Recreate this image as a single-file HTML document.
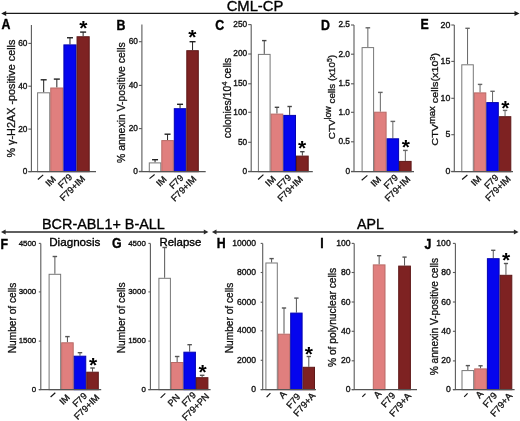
<!DOCTYPE html>
<html><head><meta charset="utf-8"><style>
html,body{margin:0;padding:0;background:#fff;}
body{width:520px;height:421px;overflow:hidden;}
svg{display:block;font-family:"Liberation Sans", sans-serif;will-change:transform;filter:blur(0.3px);}
text{-webkit-font-smoothing:antialiased;}
</style></head><body>
<svg width="520" height="421" viewBox="0 0 520 421">
<rect width="520" height="421" fill="#fff"/>
<line x1="43.68" y1="92.3" x2="43.68" y2="79.8" stroke="#222" stroke-width="1"/>
<line x1="40.68" y1="79.8" x2="46.68" y2="79.8" stroke="#222" stroke-width="1.4"/>
<rect x="37.60" y="92.80" width="12.15" height="78.90" fill="#fff" stroke="#777" stroke-width="1"/>
<line x1="56.83" y1="87.5" x2="56.83" y2="79.1" stroke="#222" stroke-width="1"/>
<line x1="53.83" y1="79.1" x2="59.83" y2="79.1" stroke="#222" stroke-width="1.4"/>
<rect x="50.75" y="88.00" width="12.15" height="83.70" fill="#E07F7E" stroke="#B86A66" stroke-width="1"/>
<line x1="69.98" y1="44.4" x2="69.98" y2="37.75" stroke="#222" stroke-width="1"/>
<line x1="66.98" y1="37.75" x2="72.98" y2="37.75" stroke="#222" stroke-width="1.4"/>
<rect x="63.90" y="44.90" width="12.15" height="126.80" fill="#0505EE" stroke="#0303B0" stroke-width="1"/>
<line x1="83.13" y1="36.25" x2="83.13" y2="32.1" stroke="#222" stroke-width="1"/>
<line x1="80.13" y1="32.1" x2="86.13" y2="32.1" stroke="#222" stroke-width="1.4"/>
<rect x="77.05" y="36.75" width="12.15" height="134.95" fill="#7E2222" stroke="#5E1818" stroke-width="1"/>
<line x1="31.4" y1="25" x2="31.4" y2="171.7" stroke="#5a5a5a" stroke-width="1.1"/>
<line x1="28.4" y1="171.7" x2="96" y2="171.7" stroke="#555" stroke-width="1.2"/>
<line x1="28.4" y1="171.6" x2="31.4" y2="171.6" stroke="#5a5a5a" stroke-width="1.1"/>
<text x="27.40" y="174.09" font-size="8.3" text-anchor="end" font-weight="normal" fill="#111" stroke="#111" stroke-width="0.35">0</text>
<line x1="28.4" y1="129.1" x2="31.4" y2="129.1" stroke="#5a5a5a" stroke-width="1.1"/>
<text x="27.40" y="131.59" font-size="8.3" text-anchor="end" font-weight="normal" fill="#111" stroke="#111" stroke-width="0.35">20</text>
<line x1="28.4" y1="86.2" x2="31.4" y2="86.2" stroke="#5a5a5a" stroke-width="1.1"/>
<text x="27.40" y="88.69" font-size="8.3" text-anchor="end" font-weight="normal" fill="#111" stroke="#111" stroke-width="0.35">40</text>
<line x1="28.4" y1="43.4" x2="31.4" y2="43.4" stroke="#5a5a5a" stroke-width="1.1"/>
<text x="27.40" y="45.89" font-size="8.3" text-anchor="end" font-weight="normal" fill="#111" stroke="#111" stroke-width="0.35">60</text>
<line x1="37.9" y1="179.5" x2="43.2" y2="174.9" stroke="#111" stroke-width="1.15"/>
<text transform="translate(49.20,187.00) rotate(-45)" font-size="9.2" fill="#111" stroke="#111" stroke-width="0.3">IM</text>
<text transform="translate(61.70,188.80) rotate(-45)" font-size="9.2" fill="#111" stroke="#111" stroke-width="0.3">F79</text>
<text transform="translate(63.50,201.50) rotate(-45)" font-size="9.2" fill="#111" stroke="#111" stroke-width="0.3">F79+IM</text>
<text transform="translate(14.7,98.60) rotate(-90)" font-size="10.6" text-anchor="middle" textLength="118.00" lengthAdjust="spacingAndGlyphs" fill="#111" stroke="#111" stroke-width="0.3">% γ-H2AX -positive cells</text>
<text transform="translate(1.6,28.9) scale(0.95,1.07)" font-size="13" font-weight="bold" fill="#000" stroke="#000" stroke-width="0.35">A</text>
<text x="83.30" y="34.50" font-size="21" font-weight="bold" text-anchor="middle" fill="#000">*</text>
<line x1="155.05" y1="162.4" x2="155.05" y2="159.7" stroke="#222" stroke-width="1"/>
<line x1="152.05" y1="159.7" x2="158.05" y2="159.7" stroke="#222" stroke-width="1.4"/>
<rect x="149.30" y="162.90" width="11.50" height="8.80" fill="#fff" stroke="#777" stroke-width="1"/>
<line x1="167.55" y1="140.1" x2="167.55" y2="134.2" stroke="#222" stroke-width="1"/>
<line x1="164.55" y1="134.2" x2="170.55" y2="134.2" stroke="#222" stroke-width="1.4"/>
<rect x="161.80" y="140.60" width="11.50" height="31.10" fill="#E07F7E" stroke="#B86A66" stroke-width="1"/>
<line x1="180.05" y1="108.2" x2="180.05" y2="104.3" stroke="#222" stroke-width="1"/>
<line x1="177.05" y1="104.3" x2="183.05" y2="104.3" stroke="#222" stroke-width="1.4"/>
<rect x="174.30" y="108.70" width="11.50" height="63.00" fill="#0505EE" stroke="#0303B0" stroke-width="1"/>
<line x1="192.55" y1="50.2" x2="192.55" y2="41.7" stroke="#222" stroke-width="1"/>
<line x1="189.55" y1="41.7" x2="195.55" y2="41.7" stroke="#222" stroke-width="1.4"/>
<rect x="186.80" y="50.70" width="11.50" height="121.00" fill="#7E2222" stroke="#5E1818" stroke-width="1"/>
<line x1="141.9" y1="24.4" x2="141.9" y2="171.7" stroke="#5a5a5a" stroke-width="1.1"/>
<line x1="138.9" y1="171.7" x2="205.7" y2="171.7" stroke="#555" stroke-width="1.2"/>
<line x1="138.9" y1="171.4" x2="141.9" y2="171.4" stroke="#5a5a5a" stroke-width="1.1"/>
<text x="137.90" y="173.89" font-size="8.3" text-anchor="end" font-weight="normal" fill="#111" stroke="#111" stroke-width="0.35">0</text>
<line x1="138.9" y1="128.6" x2="141.9" y2="128.6" stroke="#5a5a5a" stroke-width="1.1"/>
<text x="137.90" y="131.09" font-size="8.3" text-anchor="end" font-weight="normal" fill="#111" stroke="#111" stroke-width="0.35">20</text>
<line x1="138.9" y1="85.4" x2="141.9" y2="85.4" stroke="#5a5a5a" stroke-width="1.1"/>
<text x="137.90" y="87.89" font-size="8.3" text-anchor="end" font-weight="normal" fill="#111" stroke="#111" stroke-width="0.35">40</text>
<line x1="138.9" y1="41.7" x2="141.9" y2="41.7" stroke="#5a5a5a" stroke-width="1.1"/>
<text x="137.90" y="44.19" font-size="8.3" text-anchor="end" font-weight="normal" fill="#111" stroke="#111" stroke-width="0.35">60</text>
<line x1="149.5" y1="178.6" x2="154.6" y2="174.5" stroke="#111" stroke-width="1.15"/>
<text transform="translate(160.00,187.10) rotate(-45)" font-size="9.2" fill="#111" stroke="#111" stroke-width="0.3">IM</text>
<text transform="translate(172.90,189.50) rotate(-45)" font-size="9.2" fill="#111" stroke="#111" stroke-width="0.3">F79</text>
<text transform="translate(174.80,201.90) rotate(-45)" font-size="9.2" fill="#111" stroke="#111" stroke-width="0.3">F79+IM</text>
<text transform="translate(124.6,102.65) rotate(-90)" font-size="10.4" text-anchor="middle" textLength="120.70" lengthAdjust="spacingAndGlyphs" fill="#111" stroke="#111" stroke-width="0.3">% annexin V-positive cells</text>
<text transform="translate(116.6,30.2) scale(0.95,1.07)" font-size="13" font-weight="bold" fill="#000" stroke="#000" stroke-width="0.35">B</text>
<text x="192.40" y="44.35" font-size="21" font-weight="bold" text-anchor="middle" fill="#000">*</text>
<line x1="264.25" y1="53.9" x2="264.25" y2="40.6" stroke="#444" stroke-width="1"/>
<line x1="262.05" y1="40.6" x2="266.45" y2="40.6" stroke="#444" stroke-width="1.4"/>
<rect x="258.40" y="54.40" width="11.70" height="117.30" fill="#fff" stroke="#777" stroke-width="1"/>
<line x1="276.95" y1="113.6" x2="276.95" y2="107.3" stroke="#444" stroke-width="1"/>
<line x1="274.75" y1="107.3" x2="279.15" y2="107.3" stroke="#444" stroke-width="1.4"/>
<rect x="271.10" y="114.10" width="11.70" height="57.60" fill="#E07F7E" stroke="#B86A66" stroke-width="1"/>
<line x1="289.65" y1="114.9" x2="289.65" y2="106.5" stroke="#444" stroke-width="1"/>
<line x1="287.45" y1="106.5" x2="291.85" y2="106.5" stroke="#444" stroke-width="1.4"/>
<rect x="283.80" y="115.40" width="11.70" height="56.30" fill="#0505EE" stroke="#0303B0" stroke-width="1"/>
<line x1="302.35" y1="155.6" x2="302.35" y2="151.7" stroke="#444" stroke-width="1"/>
<line x1="300.15" y1="151.7" x2="304.55" y2="151.7" stroke="#444" stroke-width="1.4"/>
<rect x="296.50" y="156.10" width="11.70" height="15.60" fill="#7E2222" stroke="#5E1818" stroke-width="1"/>
<line x1="251.2" y1="24.6" x2="251.2" y2="171.7" stroke="#5a5a5a" stroke-width="1.1"/>
<line x1="248.2" y1="171.7" x2="312.8" y2="171.7" stroke="#555" stroke-width="1.2"/>
<line x1="248.2" y1="171.4" x2="251.2" y2="171.4" stroke="#5a5a5a" stroke-width="1.1"/>
<text x="247.20" y="173.89" font-size="8.3" text-anchor="end" font-weight="normal" fill="#111" stroke="#111" stroke-width="0.35">0</text>
<line x1="248.2" y1="142.3" x2="251.2" y2="142.3" stroke="#5a5a5a" stroke-width="1.1"/>
<text x="247.20" y="144.79" font-size="8.3" text-anchor="end" font-weight="normal" fill="#111" stroke="#111" stroke-width="0.35">50</text>
<line x1="248.2" y1="112.3" x2="251.2" y2="112.3" stroke="#5a5a5a" stroke-width="1.1"/>
<text x="247.20" y="114.79" font-size="8.3" text-anchor="end" font-weight="normal" fill="#111" stroke="#111" stroke-width="0.35">100</text>
<line x1="248.2" y1="83.8" x2="251.2" y2="83.8" stroke="#5a5a5a" stroke-width="1.1"/>
<text x="247.20" y="86.29" font-size="8.3" text-anchor="end" font-weight="normal" fill="#111" stroke="#111" stroke-width="0.35">150</text>
<line x1="248.2" y1="54.0" x2="251.2" y2="54.0" stroke="#5a5a5a" stroke-width="1.1"/>
<text x="247.20" y="56.49" font-size="8.3" text-anchor="end" font-weight="normal" fill="#111" stroke="#111" stroke-width="0.35">200</text>
<line x1="248.2" y1="24.6" x2="251.2" y2="24.6" stroke="#5a5a5a" stroke-width="1.1"/>
<text x="247.20" y="27.09" font-size="8.3" text-anchor="end" font-weight="normal" fill="#111" stroke="#111" stroke-width="0.35">250</text>
<line x1="258.1" y1="179.5" x2="263.4" y2="174.6" stroke="#111" stroke-width="1.15"/>
<text transform="translate(269.10,186.90) rotate(-45)" font-size="9.2" fill="#111" stroke="#111" stroke-width="0.3">IM</text>
<text transform="translate(280.60,189.40) rotate(-45)" font-size="9.2" fill="#111" stroke="#111" stroke-width="0.3">F79</text>
<text transform="translate(281.30,202.10) rotate(-45)" font-size="9.2" fill="#111" stroke="#111" stroke-width="0.3">F79+IM</text>
<text transform="translate(231.1,98.05) rotate(-90)" font-size="10.4" text-anchor="middle" textLength="80.50" lengthAdjust="spacingAndGlyphs" fill="#111" stroke="#111" stroke-width="0.3">colonies/10<tspan font-size="7.8" dy="-4">4</tspan><tspan dy="4"> cells</tspan></text>
<text transform="translate(215.3,29.6) scale(0.95,1.07)" font-size="13" font-weight="bold" fill="#000" stroke="#000" stroke-width="0.35">C</text>
<text x="302.20" y="154.95" font-size="21" font-weight="bold" text-anchor="middle" fill="#000">*</text>
<line x1="367.85" y1="47.1" x2="367.85" y2="27.8" stroke="#666" stroke-width="1"/>
<line x1="365.55" y1="27.8" x2="370.15" y2="27.8" stroke="#666" stroke-width="1.4"/>
<rect x="362.10" y="47.60" width="11.50" height="124.10" fill="#fff" stroke="#777" stroke-width="1"/>
<line x1="380.35" y1="111.7" x2="380.35" y2="92.4" stroke="#666" stroke-width="1"/>
<line x1="378.05" y1="92.4" x2="382.65" y2="92.4" stroke="#666" stroke-width="1.4"/>
<rect x="374.60" y="112.20" width="11.50" height="59.50" fill="#E07F7E" stroke="#B86A66" stroke-width="1"/>
<line x1="392.85" y1="138.3" x2="392.85" y2="121.4" stroke="#666" stroke-width="1"/>
<line x1="390.55" y1="121.4" x2="395.15" y2="121.4" stroke="#666" stroke-width="1.4"/>
<rect x="387.10" y="138.80" width="11.50" height="32.90" fill="#0505EE" stroke="#0303B0" stroke-width="1"/>
<line x1="405.35" y1="160.9" x2="405.35" y2="150.4" stroke="#666" stroke-width="1"/>
<line x1="403.05" y1="150.4" x2="407.65" y2="150.4" stroke="#666" stroke-width="1.4"/>
<rect x="399.60" y="161.40" width="11.50" height="10.30" fill="#7E2222" stroke="#5E1818" stroke-width="1"/>
<line x1="354" y1="25" x2="354" y2="171.7" stroke="#5a5a5a" stroke-width="1.1"/>
<line x1="351" y1="171.7" x2="414" y2="171.7" stroke="#555" stroke-width="1.2"/>
<line x1="351" y1="171.4" x2="354" y2="171.4" stroke="#5a5a5a" stroke-width="1.1"/>
<text x="350.00" y="173.89" font-size="8.3" text-anchor="end" font-weight="normal" fill="#111" stroke="#111" stroke-width="0.35">0</text>
<line x1="351" y1="141.8" x2="354" y2="141.8" stroke="#5a5a5a" stroke-width="1.1"/>
<text x="350.00" y="144.29" font-size="8.3" text-anchor="end" font-weight="normal" fill="#111" stroke="#111" stroke-width="0.35">0.5</text>
<line x1="351" y1="112.3" x2="354" y2="112.3" stroke="#5a5a5a" stroke-width="1.1"/>
<text x="350.00" y="114.79" font-size="8.3" text-anchor="end" font-weight="normal" fill="#111" stroke="#111" stroke-width="0.35">1.0</text>
<line x1="351" y1="83.8" x2="354" y2="83.8" stroke="#5a5a5a" stroke-width="1.1"/>
<text x="350.00" y="86.29" font-size="8.3" text-anchor="end" font-weight="normal" fill="#111" stroke="#111" stroke-width="0.35">1.5</text>
<line x1="351" y1="54.2" x2="354" y2="54.2" stroke="#5a5a5a" stroke-width="1.1"/>
<text x="350.00" y="56.69" font-size="8.3" text-anchor="end" font-weight="normal" fill="#111" stroke="#111" stroke-width="0.35">2.0</text>
<line x1="351" y1="25" x2="354" y2="25" stroke="#5a5a5a" stroke-width="1.1"/>
<text x="350.00" y="27.49" font-size="8.3" text-anchor="end" font-weight="normal" fill="#111" stroke="#111" stroke-width="0.35">2.5</text>
<line x1="361.7" y1="180.3" x2="367.4" y2="175.4" stroke="#111" stroke-width="1.15"/>
<text transform="translate(374.40,187.30) rotate(-45)" font-size="9.2" fill="#111" stroke="#111" stroke-width="0.3">IM</text>
<text transform="translate(387.50,189.40) rotate(-45)" font-size="9.2" fill="#111" stroke="#111" stroke-width="0.3">F79</text>
<text transform="translate(388.60,202.10) rotate(-45)" font-size="9.2" fill="#111" stroke="#111" stroke-width="0.3">F79+IM</text>
<text transform="translate(334.9,97.05) rotate(-90)" font-size="9.5" text-anchor="middle" textLength="84.30" lengthAdjust="spacingAndGlyphs" fill="#111" stroke="#111" stroke-width="0.3">CTV<tspan font-size="8.5" dy="-3.8">low</tspan><tspan dy="3.8"> cells (x10</tspan><tspan font-size="6.5" dy="-3.2">5</tspan><tspan dy="3.2">)</tspan></text>
<text transform="translate(320.9,29.6) scale(0.95,1.07)" font-size="13" font-weight="bold" fill="#000" stroke="#000" stroke-width="0.35">D</text>
<text x="405.75" y="154.20" font-size="21" font-weight="bold" text-anchor="middle" fill="#000">*</text>
<line x1="467.55" y1="64.3" x2="467.55" y2="28.3" stroke="#666" stroke-width="1"/>
<line x1="465.35" y1="28.3" x2="469.75" y2="28.3" stroke="#666" stroke-width="1.4"/>
<rect x="461.80" y="64.80" width="11.50" height="106.90" fill="#fff" stroke="#777" stroke-width="1"/>
<line x1="480.05" y1="92.4" x2="480.05" y2="84.4" stroke="#666" stroke-width="1"/>
<line x1="477.85" y1="84.4" x2="482.25" y2="84.4" stroke="#666" stroke-width="1.4"/>
<rect x="474.30" y="92.90" width="11.50" height="78.80" fill="#E07F7E" stroke="#B86A66" stroke-width="1"/>
<line x1="492.55" y1="102.1" x2="492.55" y2="91.3" stroke="#666" stroke-width="1"/>
<line x1="490.35" y1="91.3" x2="494.75" y2="91.3" stroke="#666" stroke-width="1.4"/>
<rect x="486.80" y="102.60" width="11.50" height="69.10" fill="#0505EE" stroke="#0303B0" stroke-width="1"/>
<line x1="505.05" y1="116.2" x2="505.05" y2="110.4" stroke="#666" stroke-width="1"/>
<line x1="502.85" y1="110.4" x2="507.25" y2="110.4" stroke="#666" stroke-width="1.4"/>
<rect x="499.30" y="116.70" width="11.50" height="55.00" fill="#7E2222" stroke="#5E1818" stroke-width="1"/>
<line x1="454.3" y1="25" x2="454.3" y2="171.7" stroke="#5a5a5a" stroke-width="1.1"/>
<line x1="451.3" y1="171.7" x2="513" y2="171.7" stroke="#555" stroke-width="1.2"/>
<line x1="451.3" y1="171.4" x2="454.3" y2="171.4" stroke="#5a5a5a" stroke-width="1.1"/>
<text x="450.30" y="174.04" font-size="8.8" text-anchor="end" font-weight="normal" fill="#111" stroke="#111" stroke-width="0.35">0</text>
<line x1="451.3" y1="134.7" x2="454.3" y2="134.7" stroke="#5a5a5a" stroke-width="1.1"/>
<text x="450.30" y="137.34" font-size="8.8" text-anchor="end" font-weight="normal" fill="#111" stroke="#111" stroke-width="0.35">5</text>
<line x1="451.3" y1="98.3" x2="454.3" y2="98.3" stroke="#5a5a5a" stroke-width="1.1"/>
<text x="450.30" y="100.94" font-size="8.8" text-anchor="end" font-weight="normal" fill="#111" stroke="#111" stroke-width="0.35">10</text>
<line x1="451.3" y1="61.4" x2="454.3" y2="61.4" stroke="#5a5a5a" stroke-width="1.1"/>
<text x="450.30" y="64.04" font-size="8.8" text-anchor="end" font-weight="normal" fill="#111" stroke="#111" stroke-width="0.35">15</text>
<line x1="451.3" y1="25" x2="454.3" y2="25" stroke="#5a5a5a" stroke-width="1.1"/>
<text x="450.30" y="27.64" font-size="8.8" text-anchor="end" font-weight="normal" fill="#111" stroke="#111" stroke-width="0.35">20</text>
<line x1="462.1" y1="179.5" x2="467.4" y2="175.0" stroke="#111" stroke-width="1.15"/>
<text transform="translate(474.80,186.50) rotate(-45)" font-size="9.2" fill="#111" stroke="#111" stroke-width="0.3">IM</text>
<text transform="translate(487.90,189.40) rotate(-45)" font-size="9.2" fill="#111" stroke="#111" stroke-width="0.3">F79</text>
<text transform="translate(489.00,201.70) rotate(-45)" font-size="9.2" fill="#111" stroke="#111" stroke-width="0.3">F79+IM</text>
<text transform="translate(437.8,99.30) rotate(-90)" font-size="9.8" text-anchor="middle" textLength="92.80" lengthAdjust="spacingAndGlyphs" fill="#111" stroke="#111" stroke-width="0.3">CTV<tspan font-size="8.5" dy="-3.3">max</tspan><tspan dy="3.3"> cells(x10</tspan><tspan font-size="6.5" dy="-3.2">3</tspan><tspan dy="3.2">)</tspan></text>
<text transform="translate(420.6,29.4) scale(0.95,1.07)" font-size="13" font-weight="bold" fill="#000" stroke="#000" stroke-width="0.35">E</text>
<text x="505.40" y="114.60" font-size="21" font-weight="bold" text-anchor="middle" fill="#000">*</text>
<line x1="54.88" y1="273.8" x2="54.88" y2="256.5" stroke="#555" stroke-width="1"/>
<line x1="52.62" y1="256.5" x2="57.12" y2="256.5" stroke="#555" stroke-width="1.4"/>
<rect x="49.10" y="274.30" width="11.55" height="115.40" fill="#fff" stroke="#777" stroke-width="1"/>
<line x1="67.43" y1="342.3" x2="67.43" y2="336.6" stroke="#555" stroke-width="1"/>
<line x1="65.18" y1="336.6" x2="69.68" y2="336.6" stroke="#555" stroke-width="1.4"/>
<rect x="61.65" y="342.80" width="11.55" height="46.90" fill="#E07F7E" stroke="#B86A66" stroke-width="1"/>
<line x1="79.98" y1="355.7" x2="79.98" y2="352.7" stroke="#555" stroke-width="1"/>
<line x1="77.73" y1="352.7" x2="82.23" y2="352.7" stroke="#555" stroke-width="1.4"/>
<rect x="74.20" y="356.20" width="11.55" height="33.50" fill="#0505EE" stroke="#0303B0" stroke-width="1"/>
<line x1="92.53" y1="371.7" x2="92.53" y2="368" stroke="#555" stroke-width="1"/>
<line x1="90.28" y1="368" x2="94.78" y2="368" stroke="#555" stroke-width="1.4"/>
<rect x="86.75" y="372.20" width="11.55" height="17.50" fill="#7E2222" stroke="#5E1818" stroke-width="1"/>
<line x1="40.8" y1="243.6" x2="40.8" y2="389.7" stroke="#5a5a5a" stroke-width="1.1"/>
<line x1="38.8" y1="389.7" x2="101.2" y2="389.7" stroke="#555" stroke-width="1.2"/>
<line x1="38.8" y1="389.6" x2="40.8" y2="389.6" stroke="#5a5a5a" stroke-width="1.1"/>
<text x="36.20" y="391.97" font-size="7.9" text-anchor="end" font-weight="normal" fill="#111" stroke="#111" stroke-width="0.35">0</text>
<line x1="38.8" y1="341.1" x2="40.8" y2="341.1" stroke="#5a5a5a" stroke-width="1.1"/>
<text x="36.20" y="343.47" font-size="7.9" text-anchor="end" font-weight="normal" fill="#111" stroke="#111" stroke-width="0.35">1500</text>
<line x1="38.8" y1="291.9" x2="40.8" y2="291.9" stroke="#5a5a5a" stroke-width="1.1"/>
<text x="36.20" y="294.27" font-size="7.9" text-anchor="end" font-weight="normal" fill="#111" stroke="#111" stroke-width="0.35">3000</text>
<line x1="38.8" y1="243.4" x2="40.8" y2="243.4" stroke="#5a5a5a" stroke-width="1.1"/>
<text x="36.20" y="245.77" font-size="7.9" text-anchor="end" font-weight="normal" fill="#111" stroke="#111" stroke-width="0.35">4500</text>
<line x1="50.6" y1="397.0" x2="55.3" y2="392.8" stroke="#111" stroke-width="1.15"/>
<text transform="translate(63.20,405.20) rotate(-45)" font-size="9.2" fill="#111" stroke="#111" stroke-width="0.3">IM</text>
<text transform="translate(76.30,407.60) rotate(-45)" font-size="9.2" fill="#111" stroke="#111" stroke-width="0.3">F79</text>
<text transform="translate(77.80,420.30) rotate(-45)" font-size="9.2" fill="#111" stroke="#111" stroke-width="0.3">F79+IM</text>
<text transform="translate(15.9,318.00) rotate(-90)" font-size="10" text-anchor="middle" textLength="70.60" lengthAdjust="spacingAndGlyphs" fill="#111" stroke="#111" stroke-width="0.3">Number of cells</text>
<text transform="translate(0.5,249.1) scale(0.95,1.07)" font-size="13" font-weight="bold" fill="#000" stroke="#000" stroke-width="0.35">F</text>
<text x="93.05" y="371.55" font-size="21" font-weight="bold" text-anchor="middle" fill="#000">*</text>
<line x1="164.65" y1="277.8" x2="164.65" y2="247.5" stroke="#555" stroke-width="1"/>
<line x1="162.40" y1="247.5" x2="166.90" y2="247.5" stroke="#555" stroke-width="1.4"/>
<rect x="158.90" y="278.30" width="11.50" height="111.40" fill="#fff" stroke="#777" stroke-width="1"/>
<line x1="177.15" y1="362" x2="177.15" y2="356.5" stroke="#555" stroke-width="1"/>
<line x1="174.90" y1="356.5" x2="179.40" y2="356.5" stroke="#555" stroke-width="1.4"/>
<rect x="171.40" y="362.50" width="11.50" height="27.20" fill="#E07F7E" stroke="#B86A66" stroke-width="1"/>
<line x1="189.65" y1="351.7" x2="189.65" y2="344.7" stroke="#555" stroke-width="1"/>
<line x1="187.40" y1="344.7" x2="191.90" y2="344.7" stroke="#555" stroke-width="1.4"/>
<rect x="183.90" y="352.20" width="11.50" height="37.50" fill="#0505EE" stroke="#0303B0" stroke-width="1"/>
<line x1="202.15" y1="377.2" x2="202.15" y2="375.3" stroke="#555" stroke-width="1"/>
<line x1="199.90" y1="375.3" x2="204.40" y2="375.3" stroke="#555" stroke-width="1.4"/>
<rect x="196.40" y="377.70" width="11.50" height="12.00" fill="#7E2222" stroke="#5E1818" stroke-width="1"/>
<line x1="150.4" y1="243.6" x2="150.4" y2="389.7" stroke="#5a5a5a" stroke-width="1.1"/>
<line x1="148.4" y1="389.7" x2="210.6" y2="389.7" stroke="#555" stroke-width="1.2"/>
<line x1="148.4" y1="389.6" x2="150.4" y2="389.6" stroke="#5a5a5a" stroke-width="1.1"/>
<text x="145.80" y="391.97" font-size="7.9" text-anchor="end" font-weight="normal" fill="#111" stroke="#111" stroke-width="0.35">0</text>
<line x1="148.4" y1="341.1" x2="150.4" y2="341.1" stroke="#5a5a5a" stroke-width="1.1"/>
<text x="145.80" y="343.47" font-size="7.9" text-anchor="end" font-weight="normal" fill="#111" stroke="#111" stroke-width="0.35">1500</text>
<line x1="148.4" y1="291.9" x2="150.4" y2="291.9" stroke="#5a5a5a" stroke-width="1.1"/>
<text x="145.80" y="294.27" font-size="7.9" text-anchor="end" font-weight="normal" fill="#111" stroke="#111" stroke-width="0.35">3000</text>
<line x1="148.4" y1="243.4" x2="150.4" y2="243.4" stroke="#5a5a5a" stroke-width="1.1"/>
<text x="145.80" y="245.77" font-size="7.9" text-anchor="end" font-weight="normal" fill="#111" stroke="#111" stroke-width="0.35">4500</text>
<line x1="160.6" y1="397.8" x2="165.3" y2="393.4" stroke="#111" stroke-width="1.15"/>
<text transform="translate(171.50,406.90) rotate(-45)" font-size="9.2" fill="#111" stroke="#111" stroke-width="0.3">PN</text>
<text transform="translate(185.40,406.90) rotate(-45)" font-size="9.2" fill="#111" stroke="#111" stroke-width="0.3">F79</text>
<text transform="translate(185.70,421.10) rotate(-45)" font-size="9.2" fill="#111" stroke="#111" stroke-width="0.3">F79+PN</text>
<text transform="translate(125.4,317.90) rotate(-90)" font-size="10" text-anchor="middle" textLength="70.80" lengthAdjust="spacingAndGlyphs" fill="#111" stroke="#111" stroke-width="0.3">Number of cells</text>
<text transform="translate(112.1,247.6) scale(0.95,1.07)" font-size="13" font-weight="bold" fill="#000" stroke="#000" stroke-width="0.35">G</text>
<text x="202.65" y="379.25" font-size="21" font-weight="bold" text-anchor="middle" fill="#000">*</text>
<line x1="271.60" y1="262.5" x2="271.60" y2="258.6" stroke="#555" stroke-width="1"/>
<line x1="269.45" y1="258.6" x2="273.75" y2="258.6" stroke="#555" stroke-width="1.4"/>
<rect x="265.90" y="263.00" width="11.40" height="126.70" fill="#fff" stroke="#777" stroke-width="1"/>
<line x1="284.00" y1="333.7" x2="284.00" y2="308" stroke="#555" stroke-width="1"/>
<line x1="281.85" y1="308" x2="286.15" y2="308" stroke="#555" stroke-width="1.4"/>
<rect x="278.30" y="334.20" width="11.40" height="55.50" fill="#E07F7E" stroke="#B86A66" stroke-width="1"/>
<line x1="296.40" y1="312.6" x2="296.40" y2="298.1" stroke="#555" stroke-width="1"/>
<line x1="294.25" y1="298.1" x2="298.55" y2="298.1" stroke="#555" stroke-width="1.4"/>
<rect x="290.70" y="313.10" width="11.40" height="76.60" fill="#0505EE" stroke="#0303B0" stroke-width="1"/>
<line x1="308.80" y1="366.8" x2="308.80" y2="356.5" stroke="#555" stroke-width="1"/>
<line x1="306.65" y1="356.5" x2="310.95" y2="356.5" stroke="#555" stroke-width="1.4"/>
<rect x="303.10" y="367.30" width="11.40" height="22.40" fill="#7E2222" stroke="#5E1818" stroke-width="1"/>
<line x1="262.7" y1="243.6" x2="262.7" y2="389.7" stroke="#5a5a5a" stroke-width="1.1"/>
<line x1="260.7" y1="389.7" x2="316" y2="389.7" stroke="#555" stroke-width="1.2"/>
<line x1="260.7" y1="389.6" x2="262.7" y2="389.6" stroke="#5a5a5a" stroke-width="1.1"/>
<text x="256.10" y="392.18" font-size="8.6" text-anchor="end" font-weight="normal" fill="#111" stroke="#111" stroke-width="0.35">0</text>
<line x1="260.7" y1="360.3" x2="262.7" y2="360.3" stroke="#5a5a5a" stroke-width="1.1"/>
<text x="256.10" y="362.88" font-size="8.6" text-anchor="end" font-weight="normal" fill="#111" stroke="#111" stroke-width="0.35">2000</text>
<line x1="260.7" y1="330.8" x2="262.7" y2="330.8" stroke="#5a5a5a" stroke-width="1.1"/>
<text x="256.10" y="333.38" font-size="8.6" text-anchor="end" font-weight="normal" fill="#111" stroke="#111" stroke-width="0.35">4000</text>
<line x1="260.7" y1="302.2" x2="262.7" y2="302.2" stroke="#5a5a5a" stroke-width="1.1"/>
<text x="256.10" y="304.78" font-size="8.6" text-anchor="end" font-weight="normal" fill="#111" stroke="#111" stroke-width="0.35">6000</text>
<line x1="260.7" y1="272.5" x2="262.7" y2="272.5" stroke="#5a5a5a" stroke-width="1.1"/>
<text x="256.10" y="275.08" font-size="8.6" text-anchor="end" font-weight="normal" fill="#111" stroke="#111" stroke-width="0.35">8000</text>
<line x1="260.7" y1="243.4" x2="262.7" y2="243.4" stroke="#5a5a5a" stroke-width="1.1"/>
<text x="256.10" y="245.98" font-size="8.6" text-anchor="end" font-weight="normal" fill="#111" stroke="#111" stroke-width="0.35">10000</text>
<line x1="266.6" y1="397.2" x2="270.4" y2="393.2" stroke="#111" stroke-width="1.15"/>
<text transform="translate(283.00,399.20) rotate(-49)" font-size="9.4" fill="#111" stroke="#111" stroke-width="0.3">A</text>
<text transform="translate(290.40,409.00) rotate(-49)" font-size="9.4" fill="#111" stroke="#111" stroke-width="0.3">F79</text>
<text transform="translate(297.60,417.10) rotate(-49)" font-size="9.4" fill="#111" stroke="#111" stroke-width="0.3">F79+A</text>
<text transform="translate(233.3,318.00) rotate(-90)" font-size="10" text-anchor="middle" textLength="70.60" lengthAdjust="spacingAndGlyphs" fill="#111" stroke="#111" stroke-width="0.3">Number of cells</text>
<text transform="translate(216.8,248.3) scale(0.95,1.07)" font-size="13" font-weight="bold" fill="#000" stroke="#000" stroke-width="0.35">H</text>
<text x="308.95" y="360.70" font-size="21" font-weight="bold" text-anchor="middle" fill="#000">*</text>
<line x1="379.15" y1="264.4" x2="379.15" y2="255.7" stroke="#555" stroke-width="1"/>
<line x1="377.05" y1="255.7" x2="381.25" y2="255.7" stroke="#555" stroke-width="1.4"/>
<rect x="373.30" y="264.90" width="11.70" height="124.80" fill="#E07F7E" stroke="#B86A66" stroke-width="1"/>
<line x1="404.55" y1="265.6" x2="404.55" y2="257.1" stroke="#555" stroke-width="1"/>
<line x1="402.45" y1="257.1" x2="406.65" y2="257.1" stroke="#555" stroke-width="1.4"/>
<rect x="398.70" y="266.10" width="11.70" height="123.60" fill="#7E2222" stroke="#5E1818" stroke-width="1"/>
<line x1="354.2" y1="243.6" x2="354.2" y2="389.7" stroke="#5a5a5a" stroke-width="1.1"/>
<line x1="351.7" y1="389.7" x2="417" y2="389.7" stroke="#555" stroke-width="1.2"/>
<line x1="351.7" y1="389.6" x2="354.2" y2="389.6" stroke="#5a5a5a" stroke-width="1.1"/>
<text x="350.60" y="392.18" font-size="8.6" text-anchor="end" font-weight="normal" fill="#111" stroke="#111" stroke-width="0.35">0</text>
<line x1="351.7" y1="360.8" x2="354.2" y2="360.8" stroke="#5a5a5a" stroke-width="1.1"/>
<text x="350.60" y="363.38" font-size="8.6" text-anchor="end" font-weight="normal" fill="#111" stroke="#111" stroke-width="0.35">20</text>
<line x1="351.7" y1="331.3" x2="354.2" y2="331.3" stroke="#5a5a5a" stroke-width="1.1"/>
<text x="350.60" y="333.88" font-size="8.6" text-anchor="end" font-weight="normal" fill="#111" stroke="#111" stroke-width="0.35">40</text>
<line x1="351.7" y1="302" x2="354.2" y2="302" stroke="#5a5a5a" stroke-width="1.1"/>
<text x="350.60" y="304.58" font-size="8.6" text-anchor="end" font-weight="normal" fill="#111" stroke="#111" stroke-width="0.35">60</text>
<line x1="351.7" y1="272.5" x2="354.2" y2="272.5" stroke="#5a5a5a" stroke-width="1.1"/>
<text x="350.60" y="275.08" font-size="8.6" text-anchor="end" font-weight="normal" fill="#111" stroke="#111" stroke-width="0.35">80</text>
<line x1="351.7" y1="243.4" x2="354.2" y2="243.4" stroke="#5a5a5a" stroke-width="1.1"/>
<text x="350.60" y="245.98" font-size="8.6" text-anchor="end" font-weight="normal" fill="#111" stroke="#111" stroke-width="0.35">100</text>
<line x1="362.3" y1="396.8" x2="365.5" y2="393.6" stroke="#111" stroke-width="1.15"/>
<text transform="translate(377.80,399.00) rotate(-49)" font-size="9.4" fill="#111" stroke="#111" stroke-width="0.3">A</text>
<text transform="translate(385.30,408.00) rotate(-49)" font-size="9.4" fill="#111" stroke="#111" stroke-width="0.3">F79</text>
<text transform="translate(393.40,417.20) rotate(-49)" font-size="9.4" fill="#111" stroke="#111" stroke-width="0.3">F79+A</text>
<text transform="translate(335.8,317.45) rotate(-90)" font-size="10.2" text-anchor="middle" textLength="99.30" lengthAdjust="spacingAndGlyphs" fill="#111" stroke="#111" stroke-width="0.3">% of polynuclear cells</text>
<text transform="translate(320.2,247.9) scale(0.95,1.07)" font-size="13" font-weight="bold" fill="#000" stroke="#000" stroke-width="0.35">I</text>
<line x1="467.85" y1="370.1" x2="467.85" y2="365.6" stroke="#555" stroke-width="1"/>
<line x1="465.75" y1="365.6" x2="469.95" y2="365.6" stroke="#555" stroke-width="1.4"/>
<rect x="462.00" y="370.60" width="11.70" height="19.10" fill="#fff" stroke="#777" stroke-width="1"/>
<line x1="480.55" y1="368.4" x2="480.55" y2="365.8" stroke="#555" stroke-width="1"/>
<line x1="478.45" y1="365.8" x2="482.65" y2="365.8" stroke="#555" stroke-width="1.4"/>
<rect x="474.70" y="368.90" width="11.70" height="20.80" fill="#E07F7E" stroke="#B86A66" stroke-width="1"/>
<line x1="493.25" y1="258.2" x2="493.25" y2="250.3" stroke="#555" stroke-width="1"/>
<line x1="491.15" y1="250.3" x2="495.35" y2="250.3" stroke="#555" stroke-width="1.4"/>
<rect x="487.40" y="258.70" width="11.70" height="131.00" fill="#0505EE" stroke="#0303B0" stroke-width="1"/>
<line x1="505.95" y1="274.8" x2="505.95" y2="263.5" stroke="#555" stroke-width="1"/>
<line x1="503.85" y1="263.5" x2="508.05" y2="263.5" stroke="#555" stroke-width="1.4"/>
<rect x="500.10" y="275.30" width="11.70" height="114.40" fill="#7E2222" stroke="#5E1818" stroke-width="1"/>
<line x1="455.4" y1="243.6" x2="455.4" y2="389.7" stroke="#5a5a5a" stroke-width="1.1"/>
<line x1="452.9" y1="389.7" x2="514.6" y2="389.7" stroke="#555" stroke-width="1.2"/>
<line x1="452.9" y1="389.6" x2="455.4" y2="389.6" stroke="#5a5a5a" stroke-width="1.1"/>
<text x="450.70" y="392.18" font-size="8.6" text-anchor="end" font-weight="normal" fill="#111" stroke="#111" stroke-width="0.35">0</text>
<line x1="452.9" y1="360.9" x2="455.4" y2="360.9" stroke="#5a5a5a" stroke-width="1.1"/>
<text x="450.70" y="363.48" font-size="8.6" text-anchor="end" font-weight="normal" fill="#111" stroke="#111" stroke-width="0.35">20</text>
<line x1="452.9" y1="331.3" x2="455.4" y2="331.3" stroke="#5a5a5a" stroke-width="1.1"/>
<text x="450.70" y="333.88" font-size="8.6" text-anchor="end" font-weight="normal" fill="#111" stroke="#111" stroke-width="0.35">40</text>
<line x1="452.9" y1="302" x2="455.4" y2="302" stroke="#5a5a5a" stroke-width="1.1"/>
<text x="450.70" y="304.58" font-size="8.6" text-anchor="end" font-weight="normal" fill="#111" stroke="#111" stroke-width="0.35">60</text>
<line x1="452.9" y1="272.5" x2="455.4" y2="272.5" stroke="#5a5a5a" stroke-width="1.1"/>
<text x="450.70" y="275.08" font-size="8.6" text-anchor="end" font-weight="normal" fill="#111" stroke="#111" stroke-width="0.35">80</text>
<line x1="452.9" y1="243.4" x2="455.4" y2="243.4" stroke="#5a5a5a" stroke-width="1.1"/>
<text x="450.70" y="245.98" font-size="8.6" text-anchor="end" font-weight="normal" fill="#111" stroke="#111" stroke-width="0.35">100</text>
<line x1="464.2" y1="396.8" x2="467.6" y2="393.4" stroke="#111" stroke-width="1.15"/>
<text transform="translate(479.70,399.10) rotate(-49)" font-size="9.4" fill="#111" stroke="#111" stroke-width="0.3">A</text>
<text transform="translate(487.00,408.00) rotate(-49)" font-size="9.4" fill="#111" stroke="#111" stroke-width="0.3">F79</text>
<text transform="translate(494.50,417.20) rotate(-49)" font-size="9.4" fill="#111" stroke="#111" stroke-width="0.3">F79+A</text>
<text transform="translate(437.9,316.60) rotate(-90)" font-size="10.1" text-anchor="middle" textLength="117.40" lengthAdjust="spacingAndGlyphs" fill="#111" stroke="#111" stroke-width="0.3">% annexin V-positive cells</text>
<text transform="translate(424.6,248.5) scale(0.95,1.07)" font-size="13" font-weight="bold" fill="#000" stroke="#000" stroke-width="0.35">J</text>
<text x="506.05" y="267.15" font-size="21" font-weight="bold" text-anchor="middle" fill="#000">*</text>
<line x1="3.2" y1="13.4" x2="517.5" y2="13.4" stroke="#1a1a1a" stroke-width="1.4"/>
<polygon points="1.2,13.4 6.2,10.9 6.2,15.9" fill="#1a1a1a"/>
<polygon points="519.5,13.4 514.5,10.9 514.5,15.9" fill="#1a1a1a"/>
<text x="255.00" y="10.50" font-size="14.8" text-anchor="middle" font-weight="normal" fill="#000" stroke="#000" stroke-width="0.35">CML-CP</text>
<line x1="3" y1="232" x2="206.4" y2="232" stroke="#2a2a2a" stroke-width="1.6"/>
<polygon points="1,232 5.6,229.4 5.6,234.6" fill="#2a2a2a"/>
<polygon points="208.4,232 203.8,229.4 203.8,234.6" fill="#2a2a2a"/>
<text x="103.40" y="228.70" font-size="14.4" text-anchor="middle" font-weight="normal" fill="#000" stroke="#000" stroke-width="0.35">BCR-ABL1+ B-ALL</text>
<line x1="213.9" y1="232" x2="516.5" y2="232" stroke="#2a2a2a" stroke-width="1.6"/>
<polygon points="211.9,232 216.5,229.4 216.5,234.6" fill="#2a2a2a"/>
<polygon points="518.5,232 513.9,229.4 513.9,234.6" fill="#2a2a2a"/>
<text x="370.40" y="229.20" font-size="14.2" text-anchor="middle" font-weight="normal" fill="#000" stroke="#000" stroke-width="0.35">APL</text>
<text x="74.75" y="245.80" font-size="11.65" text-anchor="middle" font-weight="normal" fill="#000" stroke="#000" stroke-width="0.35">Diagnosis</text>
<text x="180.40" y="245.80" font-size="11.4" text-anchor="middle" font-weight="normal" fill="#000" stroke="#000" stroke-width="0.35">Relapse</text>
</svg></body></html>
